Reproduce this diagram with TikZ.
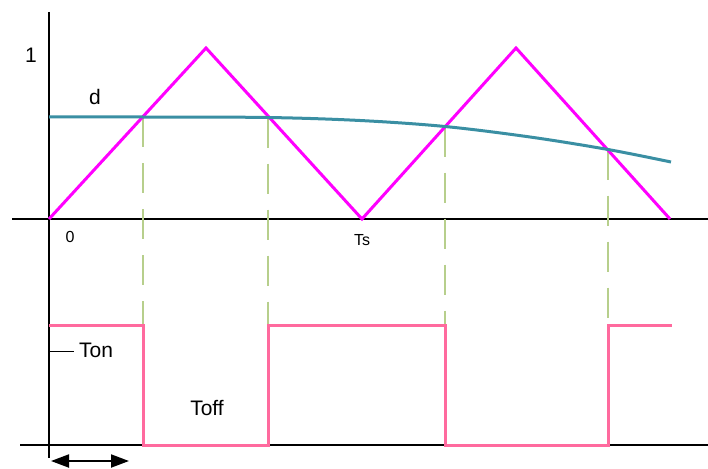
\documentclass[tikz,border=0pt]{standalone}
\usepackage{fontspec}
\setmainfont{Liberation Sans}
\usetikzlibrary{arrows.meta}
\definecolor{tri}{HTML}{FF00FF}
\definecolor{duty}{HTML}{3A8FA3}
\definecolor{pulse}{HTML}{FF6A9E}
\definecolor{guide}{HTML}{B7CF8C}
\tikzset{
  axis/.style={line width=1.6pt, black},
  carrier/.style={line width=3pt, tri},
  dutyline/.style={line width=3pt, duty},
  pulseline/.style={line width=3pt, pulse},
  guideline/.style={line width=2pt, guide, dash pattern=on 30pt off 16pt},
  big/.style={font=\fontsize{21}{25}\selectfont, inner sep=0pt},
  small/.style={font=\fontsize{16}{19}\selectfont, inner sep=0pt},
}
\begin{document}
\begin{tikzpicture}[x=1pt,y=-1pt]
\useasboundingbox (0,0) rectangle (708,468);
% axes
\coordinate (vtop) at (49,12);
\coordinate (vbot) at (49,458);
\coordinate (hl) at (12,219);
\coordinate (hr) at (708,219);
\coordinate (ll) at (20,445);
\coordinate (lr) at (708,445);
\draw[axis] (vtop) -- (vbot);
\draw[axis] (hl) -- (hr);
\draw[axis] (ll) -- (lr);
% crossing points
\coordinate (c1) at (143,117);
\coordinate (c2) at (268,117.5);
\coordinate (c3) at (445,126.5);
\coordinate (c4) at (608,149.5);
% guides
\foreach \c in {c1,c2,c3,c4} \draw[guideline] (\c) -- (\c |- ll);
% carrier triangle
\coordinate (t0) at (49,219);
\coordinate (t1) at (206,48);
\coordinate (t2) at (362,219);
\coordinate (t3) at (516,48);
\coordinate (t4) at (670,219);
\draw[carrier] (t0) -- (t1) -- (t2) -- (t3) -- (t4);
% duty curve
\draw[dutyline] plot[smooth, tension=0.55] coordinates {(49,117) (143,117) (268,117.5) (360,120.5) (445,126.5) (530,137) (608,149.5) (671,162)};
% pulse
\coordinate (p0) at (49,325);
\coordinate (p9) at (672,325);
\draw[pulseline] (p0) -- (c1 |- p0) -- (c1 |- ll) -- (c2 |- ll) -- (c2 |- p0) -- (c3 |- p0) -- (c3 |- ll) -- (c4 |- ll) -- (c4 |- p0) -- (p9);
% labels
\node[big] (one) at (31,55) {1};
\node[big] (dlab) at (95,97) {d};
\node[small] (zero) at (70,237) {0};
\node[small] (ts) at (362,240) {Ts};
\node[big, anchor=west] (ton) at (79,350) {Ton};
\draw[line width=1pt] (49,351.5) -- (74,351.5);
\node[big] (toff) at (207,408) {Toff};
% double arrow
\coordinate (a1) at (51,461);
\coordinate (a2) at (129,461);
\draw[line width=2pt, {Triangle[length=18pt,width=13pt]}-{Triangle[length=18pt,width=13pt]}] (a1) -- (a2);
\end{tikzpicture}
\end{document}
